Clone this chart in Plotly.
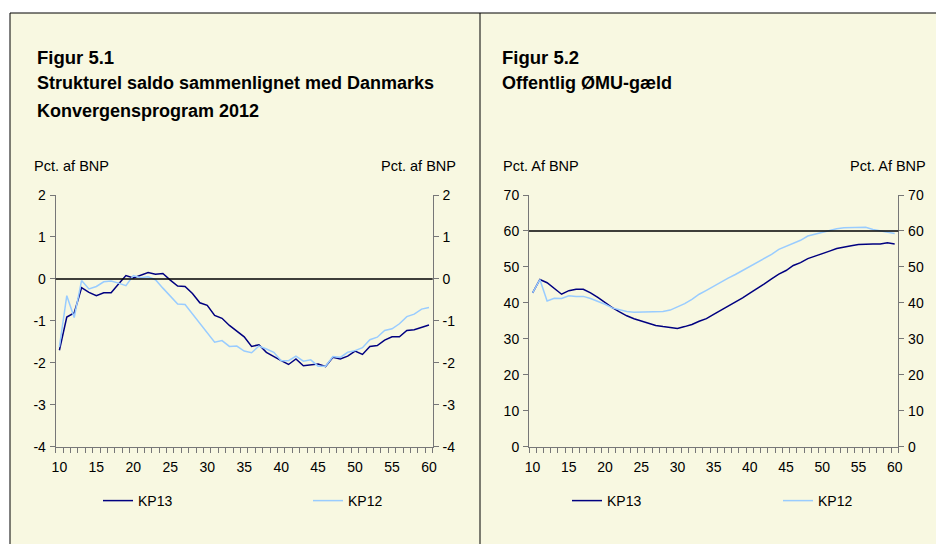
import plotly.graph_objects as go

# ---------------- data ----------------
years = list(range(10, 61))

kp13_saldo = [-1.70, -0.91, -0.81, -0.21, -0.32, -0.40, -0.33, -0.33, -0.12, 0.08,
              0.02, 0.09, 0.15, 0.11, 0.13, -0.03, -0.17, -0.18, -0.35, -0.57,
              -0.63, -0.87, -0.94, -1.11, -1.25, -1.38, -1.61, -1.57, -1.75, -1.86,
              -1.95, -2.04, -1.91, -2.07, -2.05, -2.03, -2.09, -1.87, -1.91, -1.84,
              -1.72, -1.80, -1.61, -1.59, -1.46, -1.38, -1.38, -1.23, -1.21, -1.15,
              -1.10]
kp12_saldo = [-1.62, -0.40, -0.92, -0.04, -0.24, -0.18, -0.07, -0.05, -0.10, -0.16,
              0.08, 0.03, 0.05, -0.02, -0.22, -0.41, -0.60, -0.61, -0.84, -1.07,
              -1.30, -1.51, -1.47, -1.61, -1.60, -1.72, -1.76, -1.60, -1.67, -1.75,
              -1.95, -1.95, -1.84, -1.96, -1.93, -2.08, -2.08, -1.85, -1.87, -1.75,
              -1.71, -1.64, -1.45, -1.39, -1.23, -1.19, -1.07, -0.90, -0.84, -0.72,
              -0.68]

kp13_gaeld = [42.8, 46.5, 45.6, 44.1, 42.4, 43.4, 43.8, 43.8, 42.8, 41.5,
              40.0, 38.7, 37.5, 36.4, 35.6, 34.9, 34.4, 33.7, 33.4, 33.2,
              32.9, 33.4, 34.0, 34.9, 35.6, 36.8, 37.9, 39.0, 40.2, 41.4,
              42.7, 43.9, 45.3, 46.7, 48.0, 49.0, 50.4, 51.2, 52.3, 53.0,
              53.8, 54.4, 55.1, 55.6, 55.9, 56.2, 56.4, 56.4, 56.4, 56.7,
              56.4]
kp12_gaeld = [42.8, 46.5, 40.5, 41.3, 41.2, 42.0, 41.8, 41.8, 41.2, 40.5,
              39.6, 38.6, 38.0, 37.6, 37.4, 37.4, 37.4, 37.5, 37.6, 38.0,
              38.8, 39.8, 41.0, 42.4, 43.5, 44.7, 45.8, 46.9, 47.9, 49.0,
              50.2, 51.3, 52.3, 53.5, 54.9, 55.8, 56.7, 57.4, 58.6, 59.1,
              59.7, 60.2, 60.6, 60.9, 61.0, 61.0, 61.0, 60.4, 60.0, 59.7,
              59.3]

x_tick_vals = [10, 15, 20, 25, 30, 35, 40, 45, 50, 55, 60]
x_tick_text = ["10", "15", "20", "25", "30", "35", "40", "45", "50", "55", "60"]
saldo_ticks = [-4, -3, -2, -1, 0, 1, 2]
saldo_tick_text = ["-4", "-3", "-2", "-1", "0", "1", "2"]
gaeld_ticks = [0, 10, 20, 30, 40, 50, 60, 70]
gaeld_tick_text = ["0", "10", "20", "30", "40", "50", "60", "70"]
saldo_ref = 0
gaeld_ref = 60

# ---------------- style ----------------
W, H = 936, 544
BG = "#F8F8E1"
AX = "#777777"
DARK = "#000080"
LIGHT = "#99CCFF"
FONT = "Liberation Sans, Arial, sans-serif"


def px(x):
    return x / W


def py(y):
    return 1 - y / H


fig = go.Figure()

fig.add_trace(go.Scatter(x=years, y=kp13_saldo, name="KP13", mode="lines",
                         line=dict(color=DARK, width=1.5), xaxis="x", yaxis="y",
                         legend="legend"))
fig.add_trace(go.Scatter(x=years, y=kp12_saldo, name="KP12", mode="lines",
                         line=dict(color=LIGHT, width=1.5), xaxis="x", yaxis="y",
                         legend="legend2"))
fig.add_trace(go.Scatter(x=years, y=kp13_gaeld, name="KP13", mode="lines",
                         line=dict(color=DARK, width=1.5), xaxis="x2", yaxis="y3",
                         legend="legend3"))
fig.add_trace(go.Scatter(x=years, y=kp12_gaeld, name="KP12", mode="lines",
                         line=dict(color=LIGHT, width=1.5), xaxis="x2", yaxis="y3",
                         legend="legend4"))

# invisible helpers so the right-hand axes are drawn
fig.add_trace(go.Scatter(x=[None], y=[None], xaxis="x", yaxis="y2",
                         showlegend=False, hoverinfo="skip"))
fig.add_trace(go.Scatter(x=[None], y=[None], xaxis="x2", yaxis="y4",
                         showlegend=False, hoverinfo="skip"))

y_dom = [py(446.7), py(195)]

xcommon = dict(range=[9.5, 60.5], tickmode="array", tickvals=x_tick_vals,
               ticktext=x_tick_text, ticks="", showline=True, linecolor=AX,
               linewidth=1, showgrid=False, zeroline=False,
               tickfont=dict(size=14, color="black"), ticklabelstandoff=7,
               minor=dict(ticks="outside", tickmode="linear", tick0=9.5, dtick=1,
                          ticklen=5, tickcolor=AX, tickwidth=1, showgrid=False),
               fixedrange=True)
ycommon = dict(showline=True, linecolor=AX, linewidth=1, ticks="outside",
               ticklen=5, tickcolor=AX, tickwidth=1, showgrid=False,
               zeroline=False, tickfont=dict(size=14, color="black"),
               ticklabelstandoff=1, fixedrange=True, tickmode="array")

fig.update_layout(
    xaxis=dict(domain=[px(55.7), px(432.7)], anchor="y", **xcommon),
    yaxis=dict(domain=y_dom, anchor="x", range=[-4, 2], tickvals=saldo_ticks,
               ticktext=saldo_tick_text, side="left", **ycommon),
    yaxis2=dict(domain=y_dom, anchor="x", overlaying="y", range=[-4, 2],
                tickvals=saldo_ticks, ticktext=saldo_tick_text, side="right",
                **ycommon),
    xaxis2=dict(domain=[px(529), px(898.3)], anchor="y3", **xcommon),
    yaxis3=dict(domain=y_dom, anchor="x2", range=[0, 70], tickvals=gaeld_ticks,
                ticktext=gaeld_tick_text, side="left", **ycommon),
    yaxis4=dict(domain=y_dom, anchor="x2", overlaying="y3", range=[0, 70],
                tickvals=gaeld_ticks, ticktext=gaeld_tick_text, side="right",
                **ycommon),
)

shapes = [
    # panel background
    dict(type="rect", xref="paper", yref="paper", x0=px(10), x1=1.0,
         y0=0, y1=py(13), fillcolor=BG, line=dict(width=0), layer="below"),
    # panel frame lines
    dict(type="line", xref="paper", yref="paper", x0=px(10), x1=1.0,
         y0=py(13), y1=py(13), line=dict(color="black", width=1)),
    dict(type="line", xref="paper", yref="paper", x0=px(10), x1=px(10),
         y0=0, y1=py(13), line=dict(color="black", width=1)),
    dict(type="line", xref="paper", yref="paper", x0=px(480), x1=px(480),
         y0=0, y1=py(13), line=dict(color="black", width=1)),
    # reference lines
    dict(type="line", xref="x domain", yref="y", x0=0, x1=1,
         y0=saldo_ref, y1=saldo_ref, line=dict(color="black", width=1.5)),
    dict(type="line", xref="x2 domain", yref="y3", x0=0, x1=1,
         y0=gaeld_ref, y1=gaeld_ref, line=dict(color="black", width=1.5)),
]


def ann(text, x, y, anchor="left", size=14, bold=False):
    return dict(text=f"<b>{text}</b>" if bold else text, xref="paper",
                yref="paper", x=px(x), y=py(y), xanchor=anchor,
                yanchor="middle", showarrow=False,
                font=dict(size=size, color="black", family=FONT))


annotations = [
    ann("Figur 5.1", 35, 58, size=18.5, bold=True),
    ann("Strukturel saldo sammenlignet med Danmarks", 35, 83, size=18, bold=True),
    ann("Konvergensprogram 2012", 35, 111, size=18, bold=True),
    ann("Figur 5.2", 500, 58, size=18.5, bold=True),
    ann("Offentlig ØMU-gæld", 500, 83, size=18, bold=True),
    ann("Pct. af BNP", 32, 165.5, size=14.5),
    ann("Pct. af BNP", 457.5, 165.5, anchor="right", size=14.5),
    ann("Pct. Af BNP", 500.5, 165.5, size=14.5),
    ann("Pct. Af BNP", 927.5, 165.5, anchor="right", size=14.5),
]

legend_common = dict(orientation="h", yanchor="middle", y=py(501),
                     xanchor="left", bgcolor="rgba(0,0,0,0)", borderwidth=0,
                     font=dict(size=14, color="black", family=FONT),
                     itemclick=False, itemdoubleclick=False)

fig.update_layout(
    width=W, height=H,
    margin=dict(l=0, r=0, t=0, b=0, autoexpand=False),
    paper_bgcolor="white",
    plot_bgcolor="rgba(0,0,0,0)",
    font=dict(family=FONT, color="black", size=14),
    shapes=shapes,
    annotations=annotations,
    legend=dict(x=px(98), **legend_common),
    legend2=dict(x=px(308), **legend_common),
    legend3=dict(x=px(567), **legend_common),
    legend4=dict(x=px(778), **legend_common),
    hovermode=False,
)

fig.write_html("out.html", config={"displayModeBar": False},
               post_script="document.body.style.margin='0px';"
                           "document.body.style.overflow='hidden';")
